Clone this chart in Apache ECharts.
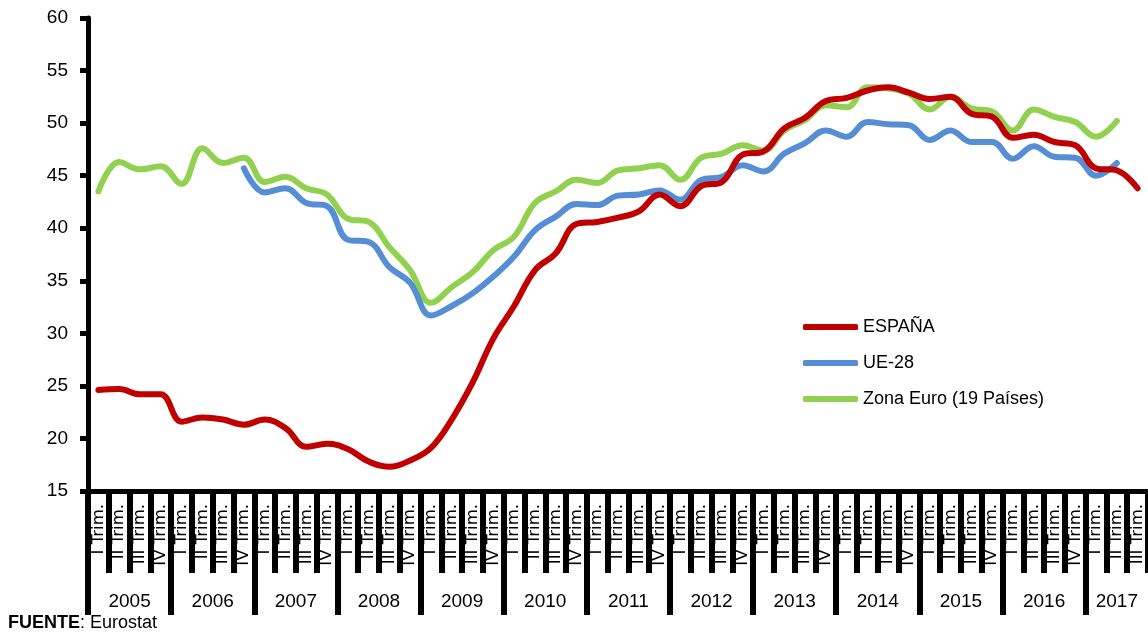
<!DOCTYPE html>
<html>
<head>
<meta charset="utf-8">
<script src="https://cdn.jsdelivr.net/npm/echarts@6/dist/echarts.min.js"></script>
<style>
html,body{margin:0;padding:0;background:#fff;}
#chart{width:1148px;height:633px;}
</style>
</head>
<body>
<div id="chart"></div>
<script>
var years = ['2005','2006','2007','2008','2009','2010','2011','2012','2013','2014','2015','2016','2017'];
var quarterNames = ['I Trim.','II Trim.','III Trim.','IV Trim.'];
var quartersInLastYear = 3;

var espana = [24.6,24.7,24.2,24.2, 21.6,22.0,21.8,21.3, 21.8,21.0,19.2,19.5, 19.0,17.8,17.3,17.9,
              19.1,21.8,25.3,29.5, 32.6,36.0,37.6,40.4, 40.6,41.0,41.6,43.2, 42.1,44.0,44.4,47.0,
              47.3,49.5,50.5,52.1, 52.4,53.1,53.4,52.9, 52.3,52.5,50.9,50.6, 48.6,48.9,48.2,47.9,
              45.7,45.5,43.8];
var ue28 = [null,null,null,null, null,null,null,45.7, 43.4,43.8,42.4,42.1, 38.9,38.7,36.3,34.8,
            31.7,32.6,33.8,35.4, 37.3,39.8,41.1,42.3, 42.2,43.1,43.2,43.6, 42.7,44.6,44.9,46.0,
            45.4,47.1,48.1,49.3, 48.7,50.1,49.9,49.8, 48.4,49.3,48.2,48.2, 46.6,47.8,46.8,46.7,
            45.0,46.2,null];
var zonaEuro = [43.5,46.3,45.6,45.9, 44.2,47.6,46.2,46.7, 44.4,44.9,43.8,43.2, 40.9,40.6,38.2,36.0,
                32.9,34.4,35.8,37.9, 39.2,42.4,43.5,44.6, 44.3,45.5,45.7,46.0, 44.6,46.7,47.1,47.9,
                47.4,49.3,50.3,51.7, 51.5,53.4,53.3,52.8, 51.3,52.5,51.4,51.1, 49.3,51.3,50.6,50.1,
                48.7,50.2,null];
var seriesNames = ['ESPAÑA','UE-28','Zona Euro (19 Países)'];
var seriesColors = ['#C00000','#558ED5','#92D050'];
var yTicks = {min:15, max:60, interval:5};
var sourceLabel = 'FUENTE';
var sourceText = 'Eurostat';

// build quarter categories
var quarterCats = [];
years.forEach(function(y, yi){
  var n = (yi === years.length-1) ? quartersInLastYear : 4;
  for (var q=0;q<n;q++) quarterCats.push(quarterNames[q]);
});
var nQ = quarterCats.length;
// year axis: half-quarter boundary points (boundaryGap false)
var yearCats = [];
for (var k=0;k<=2*nQ;k++) yearCats.push('');
var yearTickIdx = {};
years.forEach(function(y, yi){
  var startQ = yi*4;
  var n = (yi === years.length-1) ? quartersInLastYear : 4;
  yearTickIdx[2*startQ] = true;
  yearCats[2*startQ + n] = y;
});

var chart = echarts.init(document.getElementById('chart'), null, {renderer:'canvas'});
var series = [espana, ue28, zonaEuro].map(function(d, i){
  return {
    name: seriesNames[i], type:'line', data:d, xAxisIndex:0, yAxisIndex:0,
    smooth:0.4, symbol:'none', connectNulls:false,
    lineStyle:{color:seriesColors[i], width:6, cap:'round', join:'round'},
    itemStyle:{color:seriesColors[i]},
    z: 3 - i
  };
});
series = [series[2], series[1], series[0]];

chart.setOption({
  animation:false,
  backgroundColor:'#fff',
  textStyle:{fontFamily:'Liberation Sans'},
  title:{
    left:8, top:614, padding:0,
    text:'{b|'+sourceLabel+'}: '+sourceText,
    textStyle:{fontSize:18, fontWeight:'normal', color:'#000', fontFamily:'Liberation Sans',
      rich:{b:{fontWeight:'bold', fontSize:18, color:'#000', fontFamily:'Liberation Sans'}}}
  },
  legend:{
    orient:'vertical', left:803, top:317, padding:0,
    data:seriesNames,
    icon:'roundRect', itemWidth:55, itemHeight:6, itemGap:16,
    textStyle:{fontSize:18, color:'#000', fontFamily:'Liberation Sans', lineHeight:20}
  },
  grid:{left:88, top:18, width:1066, height:473, containLabel:false},
  xAxis:[{
    type:'category', data:quarterCats, position:'bottom', boundaryGap:true,
    axisLine:{show:true, lineStyle:{color:'#000', width:5}},
    axisTick:{show:true, interval:0, length:82, lineStyle:{color:'#000', width:6}},
    axisLabel:{interval:0, rotate:90, margin:13, fontSize:16.5, color:'#000', fontFamily:'DejaVu Sans'},
    splitLine:{show:false}
  },{
    type:'category', data:yearCats, position:'bottom', boundaryGap:false,
    axisLine:{show:false},
    axisTick:{show:true, length:124, lineStyle:{color:'#000', width:6},
      interval:function(idx){ return !!yearTickIdx[idx]; }},
    axisLabel:{interval:function(idx, val){ return val !== ''; }, margin:101, fontSize:19, color:'#000', fontFamily:'Liberation Sans'},
    splitLine:{show:false}
  }],
  yAxis:[{
    type:'value', min:yTicks.min, max:yTicks.max, interval:yTicks.interval,
    axisLine:{show:true, lineStyle:{color:'#000', width:5}},
    axisTick:{show:true, length:8, lineStyle:{color:'#000', width:5}},
    axisLabel:{margin:20, fontSize:19, color:'#000', fontFamily:'Liberation Sans'},
    splitLine:{show:false}
  }],
  series: series
});
</script>
</body>
</html>
